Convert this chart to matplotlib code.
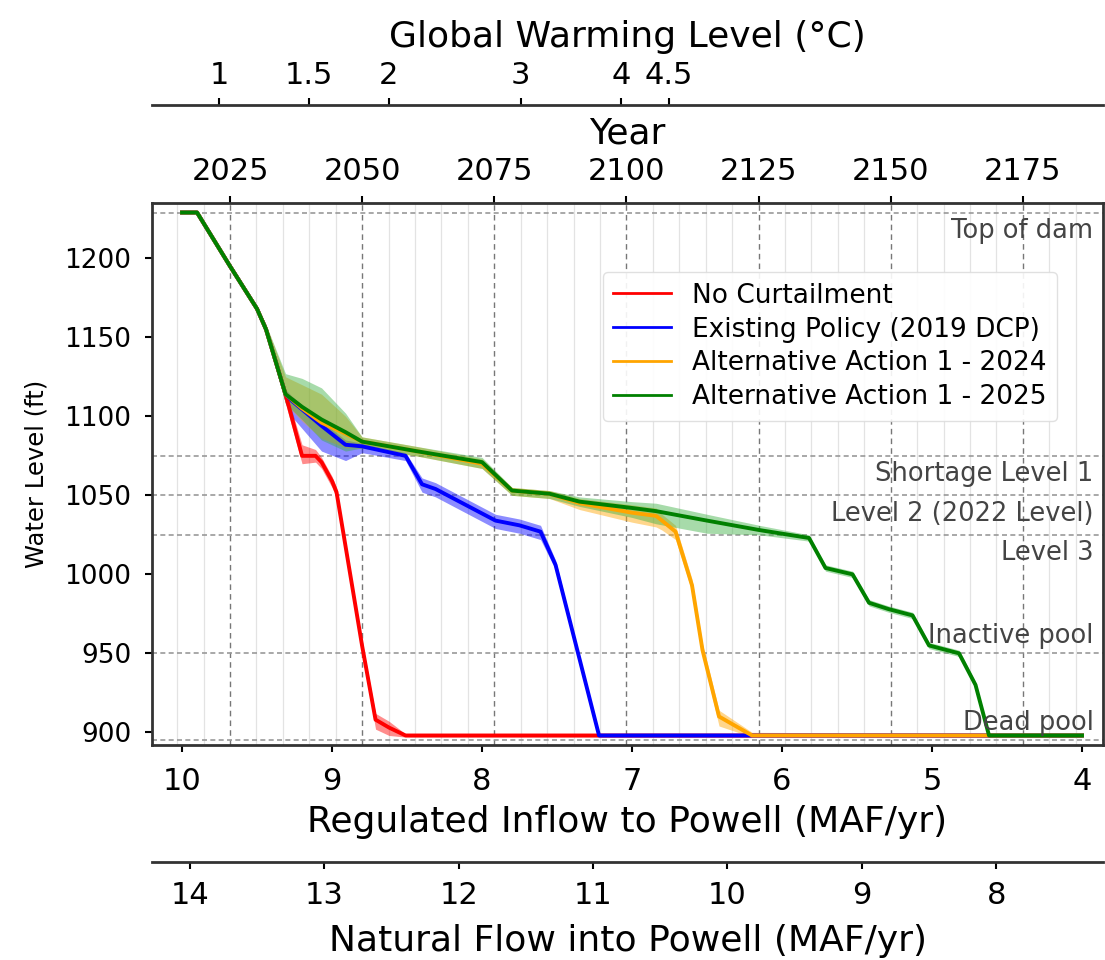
import numpy as np
import matplotlib.pyplot as plt

# Lake Mead level (ft) vs regulated inflow to Powell (MAF/yr), 4 policies
nc_flow = [10.0, 9.9, 9.68, 9.5, 9.44, 9.31, 9.2, 9.11, 9.07, 9.0, 8.97, 8.8, 8.71, 8.62, 8.51, 4.0]
nc_level = [1229, 1229, 1195, 1168, 1155, 1114, 1075, 1075, 1071, 1059, 1052, 955, 908, 903, 898, 898]
nc_low = [1229, 1229, 1194, 1166, 1152, 1108, 1070, 1071, 1067, 1055, 1048, 952, 902, 898, 897, 897]
nc_high = [1229, 1229, 1197, 1170, 1158, 1117, 1082, 1079, 1074, 1062, 1055, 958, 912, 907, 899, 899]

dcp_flow = [10.0, 9.9, 9.68, 9.5, 9.44, 9.31, 9.27, 9.07, 8.91, 8.8, 8.51, 8.4, 8.31, 7.91, 7.75, 7.61, 7.51, 7.22, 4.0]
dcp_level = [1229, 1229, 1195, 1168, 1155, 1114, 1110, 1094, 1082, 1081, 1075, 1057, 1054, 1034, 1031, 1027, 1006, 898, 898]
dcp_low = [1229, 1229, 1194, 1166, 1152, 1108, 1100, 1078, 1072, 1077, 1072, 1052, 1049, 1029, 1026, 1022, 1003, 897, 897]
dcp_high = [1229, 1229, 1197, 1170, 1158, 1117, 1113, 1097, 1085, 1083, 1077, 1061, 1058, 1038, 1035, 1031, 1009, 899, 899]

a24_flow = [10.0, 9.9, 9.68, 9.5, 9.44, 9.31, 9.2, 9.07, 8.91, 8.8, 8.44, 8.0, 7.8, 7.55, 7.35, 7.0, 6.84, 6.8, 6.71, 6.6, 6.53, 6.42, 6.2, 4.0]
a24_level = [1229, 1229, 1195, 1168, 1155, 1114, 1105, 1096, 1089, 1084, 1078, 1070, 1053, 1051, 1045, 1039, 1037, 1034, 1027, 993, 952, 910, 898, 898]
a24_low = [1229, 1229, 1194, 1166, 1152, 1108, 1097, 1086, 1080, 1080, 1075, 1067, 1050, 1048, 1041, 1033, 1030, 1028, 1022, 989, 948, 904, 897, 897]
a24_high = [1229, 1229, 1197, 1170, 1158, 1125, 1120, 1114, 1100, 1087, 1081, 1073, 1055, 1053, 1048, 1044, 1042, 1038, 1031, 997, 956, 914, 900, 899]

a25_flow = [10.0, 9.9, 9.68, 9.5, 9.44, 9.31, 9.2, 9.07, 8.91, 8.8, 8.44, 8.0, 7.8, 7.55, 7.35, 7.0, 6.84, 6.5, 6.15,
            5.82, 5.71, 5.53, 5.42, 5.29, 5.13, 5.02, 4.82, 4.71, 4.62, 4.0]
a25_level = [1229, 1229, 1195, 1168, 1155, 1114, 1106, 1098, 1090, 1084, 1078, 1071, 1053, 1051, 1046, 1042, 1040, 1034, 1028,
             1023, 1004, 1000, 982, 978, 974, 955, 950, 930, 898, 898]
a25_low = [1229, 1229, 1194, 1166, 1152, 1108, 1098, 1085, 1078, 1080, 1075, 1067, 1050, 1048, 1043, 1036, 1032, 1026, 1025,
           1021, 1002, 998, 980, 976, 972, 953, 948, 928, 897, 897]
a25_high = [1229, 1229, 1197, 1170, 1158, 1127, 1124, 1118, 1102, 1087, 1081, 1074, 1055, 1053, 1049, 1046, 1045, 1038, 1031,
            1025, 1006, 1002, 984, 980, 976, 957, 952, 932, 899, 899]

# reference elevations
ref_names = ['Top of dam', 'Shortage Level 1', 'Level 2 (2022 Level)', 'Level 3', 'Inactive pool', 'Dead pool']
ref_levels = [1229, 1075, 1050, 1025, 950, 895]
ref_above = [False, False, False, False, True, True]

# global warming level reached by year
gwl_labels = ['1', '1.5', '2', '3', '4', '4.5']
gwl_years = [2023, 2040, 2055, 2080, 2099, 2108]

year_ticks = [2025, 2050, 2075, 2100, 2125, 2150, 2175]
flow_ticks = [10, 9, 8, 7, 6, 5, 4]
natural_ticks = [14, 13, 12, 11, 10, 9, 8]
level_ticks = [900, 950, 1000, 1050, 1100, 1150, 1200]


# regulated inflow <-> year / natural flow
def flow_to_year(r):
    return 2025 + (9.68 - np.asarray(r, dtype=float)) / 0.03524


def year_to_flow(y):
    return 9.68 - (np.asarray(y, dtype=float) - 2025) * 0.03524


def flow_to_natural(r):
    return (np.asarray(r, dtype=float) + 2.593) / 0.8957


def natural_to_flow(n):
    return 0.8957 * np.asarray(n, dtype=float) - 2.593


fig = plt.figure(figsize=(11.05, 9.6), dpi=100)
ax = fig.add_axes([0.1376, 0.224, 0.8606, 0.5645])
ax.set_xlim(10.2, 3.86)
ax.set_ylim(892, 1235)

# year grid
for yr in range(2010, 2190, 5):
    if yr % 25 == 0:
        ax.axvline(year_to_flow(yr), color='#777777', ls=(0, (4, 3)), lw=1.0, zorder=0)
    else:
        ax.axvline(year_to_flow(yr), color='#e3e3e3', lw=0.9, zorder=0)

for name, lvl, above in zip(ref_names, ref_levels, ref_above):
    ax.axhline(lvl, color='#999999', ls=(0, (3, 2)), lw=1.2, zorder=0)
    ax.annotate(name, xy=(0.99, lvl), xycoords=('axes fraction', 'data'),
                xytext=(0, 3 if above else -4), textcoords='offset points',
                ha='right', va='bottom' if above else 'top', fontsize=18.5, color='#444444')

series = [
    (nc_flow, nc_level, nc_low, nc_high, 'red', 'red', 'No Curtailment'),
    (dcp_flow, dcp_level, dcp_low, dcp_high, 'blue', 'blue', 'Existing Policy (2019 DCP)'),
    (a24_flow, a24_level, a24_low, a24_high, 'orange', 'orange', 'Alternative Action 1 - 2024'),
    (a25_flow, a25_level, a25_low, a25_high, 'green', '#3cb043', 'Alternative Action 1 - 2025'),
]
for flow, level, low, high, c, fc, label in series:
    ax.fill_between(flow, low, high, color=fc, alpha=0.45, lw=0)
    ax.plot(flow, level, color=c, lw=2.8, label=label)

ax.set_xticks(flow_ticks)
ax.set_yticks(level_ticks)
ax.tick_params(axis='x', labelsize=22, length=5, width=1.5, pad=11)
ax.tick_params(axis='y', labelsize=19, length=5, width=1.5, pad=10)
ax.set_xlabel('Regulated Inflow to Powell (MAF/yr)', fontsize=26, labelpad=6)
ax.set_ylabel('Water Level (ft)', fontsize=17.5, labelpad=11)
for s in ax.spines.values():
    s.set_linewidth(2)
    s.set_color('#333333')

leg = ax.legend(loc='upper left', bbox_to_anchor=(0.46, 0.897), fontsize=19,
                handlelength=2.2, framealpha=0.9, edgecolor='#dddddd',
                borderpad=0.4, labelspacing=0.3)
for line in leg.get_lines():
    line.set_linewidth(2)

# year axis on top
sec_year = ax.secondary_xaxis('top', functions=(flow_to_year, year_to_flow))
sec_year.set_xticks(year_ticks)
sec_year.tick_params(labelsize=22, length=5, width=1.5, pad=7)
sec_year.set_xlabel('Year', fontsize=26, labelpad=10)

# global warming level axis
sec_gwl = ax.secondary_xaxis(1.1808, functions=(flow_to_year, year_to_flow))
sec_gwl.set_xticks(gwl_years, gwl_labels)
sec_gwl.tick_params(labelsize=22, length=5, width=1.5, pad=6)
sec_gwl.set_xlabel('Global Warming Level (°C)', fontsize=26, labelpad=10)
sec_gwl.spines['top'].set_linewidth(2)
sec_gwl.spines['top'].set_color('#333333')

# natural flow axis
sec_nat = ax.secondary_xaxis(-0.2159, functions=(flow_to_natural, natural_to_flow))
sec_nat.set_xticks(natural_ticks)
sec_nat.tick_params(labelsize=22, length=5, width=1.5, pad=8.5)
sec_nat.set_xlabel('Natural Flow into Powell (MAF/yr)', fontsize=26, labelpad=10)
sec_nat.spines['bottom'].set_linewidth(2)
sec_nat.spines['bottom'].set_color('#333333')

fig.savefig('out.png', dpi=100)
